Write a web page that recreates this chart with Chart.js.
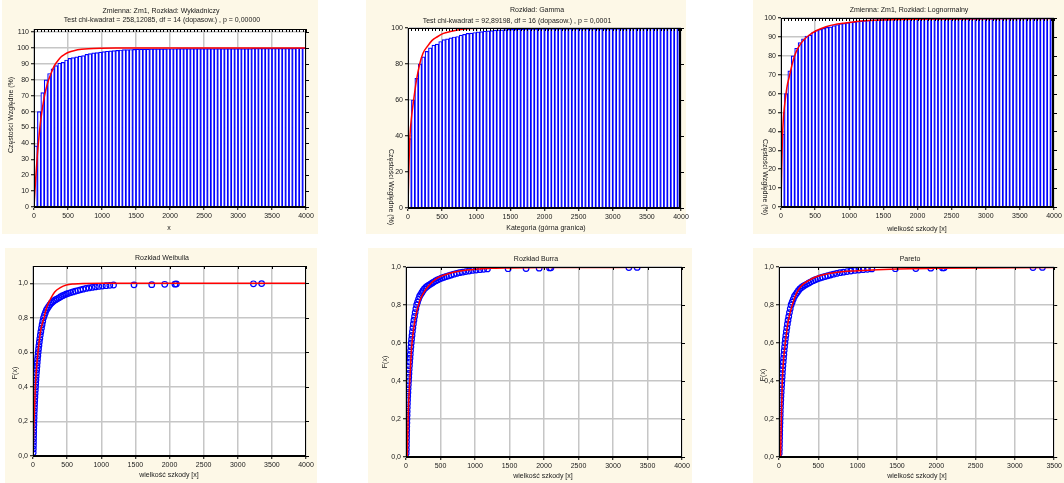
<!DOCTYPE html>
<html>
<head>
<meta charset="utf-8">
<script src="https://cdn.jsdelivr.net/npm/chart.js@4.4.1/dist/chart.umd.min.js"></script>
<style>
html, body { margin: 0; padding: 0; background: #fff; }
#page { position: relative; width: 1064px; height: 483px; overflow: hidden; }
.panel { position: absolute; background: #fdf8e7; }
canvas { position: absolute; left: 0; top: 0; }
</style>
</head>
<body>
<div id="page"></div>
<script>
// ---- data ----

// histogram classes (upper bound of each 50-wide class)
var binUpper = Array.from({ length: 80 }, function (_, i) { return (i + 1) * 50; });

// cumulative relative frequency (%) per class
var cumPct = [
  38.5, 60, 72, 80, 84, 87, 89, 90.5, 91, 92.5,
  93.5, 94, 94.5, 95, 95.3, 96, 96.5, 97, 97.2, 97.5,
  97.8, 98, 98.2, 98.4, 98.6, 98.8, 99, 99, 99.1, 99.2,
  99.3, 99.3, 99.4, 99.4, 99.5, 99.5, 99.5, 99.5, 99.5, 99.6,
  99.6, 99.6, 99.7, 99.7, 99.7, 99.7, 99.7, 99.7, 99.7, 99.7,
  99.7, 99.7, 99.7, 99.7, 99.7, 99.7, 99.7, 99.7, 99.7, 99.7,
  99.7, 99.7, 99.7, 99.7, 99.8, 99.8, 99.8, 99.8, 99.8, 99.8,
  99.8, 99.8, 99.8, 99.8, 99.8, 99.8, 99.8, 100, 100, 100
];

// fitted curves on the histograms (%)
var expX = [0, 25, 50, 75, 100, 150, 200, 250, 300, 350, 400, 450, 500, 600, 700, 800, 1000, 1200, 4000];
var expY = [0, 18, 33, 45, 55, 69, 78, 84, 89, 92, 94.5, 96, 97.2, 98.5, 99.2, 99.6, 99.9, 100, 100];

var gammaX = [0, 10, 29, 50, 83, 120, 171, 220, 288, 350, 425, 520, 620, 750, 913, 1200, 4000];
var gammaY = [0, 18, 40, 50, 60, 70, 80, 86, 90, 93, 95, 97, 98, 99, 99.7, 100, 100];

var lognX = [0, 10, 20, 35, 50, 63, 90, 122, 160, 195, 240, 293, 350, 415, 530, 659, 780, 904, 1221, 1700, 2500, 4000];
var lognY = [0, 20, 35, 47, 53, 57, 64, 69, 75, 79.5, 83.5, 86.6, 89, 91, 93.5, 95.4, 96.5, 97.2, 98.6, 99.2, 99.5, 99.8];

// empirical distribution of the claims
var ecdfX = [
  3, 5, 6, 7, 8, 9, 10, 11, 13, 14,
  16, 17, 19, 21, 23, 25, 28, 31, 34, 37,
  40, 43, 46, 50, 54, 58, 62, 66, 71, 76,
  81, 87, 93, 100, 107, 115, 124, 133, 143, 154,
  167, 181, 196, 212, 229, 247, 266, 287, 309, 332,
  356, 381, 407, 434, 462, 491, 521, 553, 586, 620,
  656, 694, 734, 776, 820, 866, 914, 964, 1016, 1070,
  1125, 1180, 1480, 1740, 1930, 2080, 2100, 3230, 3350
];
var ecdfF = [
  0.02, 0.04, 0.06, 0.08, 0.10, 0.12, 0.14, 0.16, 0.18, 0.20,
  0.22, 0.24, 0.26, 0.28, 0.30, 0.32, 0.34, 0.36, 0.38, 0.40,
  0.42, 0.44, 0.46, 0.48, 0.50, 0.52, 0.54, 0.56, 0.58, 0.60,
  0.62, 0.64, 0.66, 0.68, 0.70, 0.72, 0.74, 0.76, 0.78, 0.80,
  0.815, 0.83, 0.845, 0.855, 0.865, 0.875, 0.885, 0.892, 0.899, 0.905,
  0.91, 0.916, 0.922, 0.928, 0.933, 0.938, 0.942, 0.946, 0.95, 0.954,
  0.958, 0.962, 0.966, 0.97, 0.973, 0.976, 0.979, 0.982, 0.984, 0.986,
  0.988, 0.99, 0.991, 0.992, 0.994, 0.995, 0.996, 0.997, 0.998
];

// fitted distribution functions F(x)
var weibX = [0, 15, 34, 50, 73, 110, 161, 200, 244, 318, 400, 489, 600, 733, 1000, 4000];
var weibF = [0, 0.2, 0.4, 0.5, 0.6, 0.72, 0.8, 0.86, 0.9, 0.95, 0.975, 0.99, 0.996, 0.999, 1, 1];

var burrX = [19, 34, 58, 82, 130, 203, 300, 445, 638, 880, 1217, 1500, 2000, 3000, 4000];
var burrF = [0, 0.246, 0.42, 0.58, 0.72, 0.826, 0.888, 0.94, 0.967, 0.984, 0.993, 0.995, 0.997, 0.998, 0.999];

var paretoX = [20, 30, 42, 60, 80, 120, 169, 220, 283, 380, 482, 700, 1000, 1500, 2000, 3500];
var paretoF = [0, 0.2, 0.4, 0.52, 0.6, 0.72, 0.8, 0.86, 0.9, 0.93, 0.95, 0.97, 0.98, 0.99, 0.993, 0.998];

// tick labels
var xTicks4000 = [0, 500, 1000, 1500, 2000, 2500, 3000, 3500, 4000];
var xTicks3500 = [0, 500, 1000, 1500, 2000, 2500, 3000, 3500];
var pctTicks110 = [0, 10, 20, 30, 40, 50, 60, 70, 80, 90, 100, 110];
var pctTicks20 = [0, 20, 40, 60, 80, 100];
var pctTicks10 = [0, 10, 20, 30, 40, 50, 60, 70, 80, 90, 100];
var fTicks = [0, 0.2, 0.4, 0.6, 0.8, 1.0];

// ---- drawing ----
var W = 1064, H = 483, Y_W = 24, X_H = 14;
var FONT = '"Liberation Sans", Arial, sans-serif';
Chart.defaults.font.family = FONT;
Chart.defaults.font.size = 7;
Chart.defaults.color = '#1a1a1a';

function pts(xs, ys) {
  return xs.map(function (x, i) { return { x: x, y: ys[i] }; });
}

var panelDeco = {
  id: 'panelDeco',
  beforeDraw: function (chart) {
    var a = chart.chartArea, ctx = chart.ctx;
    ctx.save();
    ctx.fillStyle = '#fff';
    ctx.fillRect(a.left, a.top, a.width, a.height);
    ctx.restore();
  },
  afterDatasetsDraw: function (chart, args, o) {
    var a = chart.chartArea, ctx = chart.ctx, sx = chart.scales.x, sy = chart.scales.y;
    ctx.save();
    ctx.strokeStyle = '#000';
    ctx.lineWidth = 1;
    ctx.strokeRect(Math.round(a.left) + 0.5, Math.round(a.top) + 0.5, Math.round(a.width) - 1, Math.round(a.height) - 1);
    if (o.thickRight) {
      ctx.fillStyle = '#000';
      ctx.fillRect(Math.round(a.right) - 2, a.top, 2, a.height);
    }
    ctx.beginPath();
    sy.ticks.forEach(function (t) {
      var y = Math.round(sy.getPixelForValue(t.value)) + 0.5;
      ctx.moveTo(a.right, y); ctx.lineTo(a.right + 3, y);
    });
    (o.topTicks || sx.ticks.map(function (t) { return t.value; })).forEach(function (v) {
      var x = Math.round(sx.getPixelForValue(v)) + 0.5;
      ctx.moveTo(x, a.top); ctx.lineTo(x, a.top + 3);
    });
    ctx.stroke();
    ctx.restore();
  },
  afterDraw: function (chart, args, o) {
    var ctx = chart.ctx;
    ctx.save();
    ctx.fillStyle = '#1a1a1a';
    ctx.font = '7px ' + FONT;
    ctx.textAlign = 'center';
    ctx.textBaseline = 'middle';
    o.texts.forEach(function (t) {
      ctx.save();
      ctx.translate(t[1], t[2]);
      if (t[3]) ctx.rotate(t[3] * Math.PI / 2);
      ctx.fillText(t[0], 0, 0);
      ctx.restore();
    });
    ctx.restore();
  }
};

function fmtF(v) { return v.toFixed(1).replace('.', ','); }
function fmtInt(v) { return String(v); }

function axes(p) {
  var grid = { color: '#c6c6c6', lineWidth: 1.5, tickLength: 3, tickColor: '#000', tickWidth: 1 };
  return {
    x: {
      type: 'linear', min: 0, max: p.xMax, offset: false,
      grid: Object.assign({ offset: false }, grid),
      border: { color: '#000' },
      ticks: { callback: fmtInt, padding: 2, maxRotation: 0, autoSkip: false },
      afterBuildTicks: function (s) { s.ticks = p.xTicks.map(function (v) { return { value: v }; }); },
      afterFit: function (s) { s.height = X_H; }
    },
    y: {
      type: 'linear', min: 0, max: p.yMax,
      grid: grid,
      border: { color: '#000' },
      ticks: { callback: p.yFmt || fmtInt, padding: 2 },
      afterBuildTicks: function (s) { s.ticks = p.yTicks.map(function (v) { return { value: v }; }); },
      afterFit: function (s) { s.width = Y_W; }
    }
  };
}

var panels = [
  { cream: [2, 0, 316, 234], plot: [34, 29, 306, 207], kind: 'hist', fit: [expX, expY],
    xMax: 4000, xTicks: xTicks4000, yMax: 112, yTicks: pctTicks110,
    texts: [['Zmienna: Zm1, Rozkład: Wykładniczy', 161, 11],
            ['Test chi-kwadrat = 258,12085, df = 14 (dopasow.) , p = 0,00000', 162, 20],
            ['x', 169, 228],
            ['Częstości Względne (%)', 11, 115, -1]] },
  { cream: [366, 0, 320, 234], plot: [408, 28, 681, 208], kind: 'hist', fit: [gammaX, gammaY], thickRight: true,
    xMax: 4000, xTicks: xTicks4000, yMax: 100, yTicks: pctTicks20,
    texts: [['Rozkład: Gamma', 537, 10],
            ['Test chi-kwadrat = 92,89198, df = 16 (dopasow.) , p = 0,0001', 517, 21],
            ['Kategoria (górna granica)', 546, 228],
            ['Częstości Względne (%)', 391, 187, 1]] },
  { cream: [753, 0, 311, 234], plot: [781, 18, 1054, 207], kind: 'hist', fit: [lognX, lognY], thickRight: true,
    xMax: 4000, xTicks: xTicks4000, yMax: 100, yTicks: pctTicks10,
    texts: [['Zmienna: Zm1, Rozkład: Lognormalny', 909, 10],
            ['wielkość szkody [x]', 917, 229],
            ['Częstości Względne (%)', 765, 177, 1]] },
  { cream: [5, 248, 312, 235], plot: [33, 266, 306, 456], kind: 'cdf', fit: [weibX, weibF],
    xMax: 4000, xTicks: xTicks4000, yMax: 1.1, yTicks: fTicks, yFmt: fmtF,
    texts: [['Rozkład Weibulla', 162, 258],
            ['wielkość szkody [x]', 169, 475],
            ['F(x)', 15, 373, -1]] },
  { cream: [368, 248, 324, 235], plot: [406, 267, 682, 457], kind: 'cdf', fit: [burrX, burrF],
    xMax: 4000, xTicks: xTicks4000, yMax: 1, yTicks: fTicks, yFmt: fmtF,
    texts: [['Rozkład Burra', 536, 259],
            ['wielkość szkody [x]', 543, 476],
            ['F(x)', 385, 362, -1]] },
  { cream: [753, 248, 311, 235], plot: [779, 267, 1055, 457], kind: 'cdf', fit: [paretoX, paretoF],
    xMax: 3500, xTicks: xTicks3500, yMax: 1, yTicks: fTicks, yFmt: fmtF,
    texts: [['Pareto', 910, 259],
            ['wielkość szkody [x]', 917, 476],
            ['F(x)', 763, 375, -1]] }
];

var page = document.getElementById('page');

panels.forEach(function (p) {
  var bg = document.createElement('div');
  bg.className = 'panel';
  bg.style.left = p.cream[0] + 'px';
  bg.style.top = p.cream[1] + 'px';
  bg.style.width = p.cream[2] + 'px';
  bg.style.height = p.cream[3] + 'px';
  page.appendChild(bg);
});

panels.forEach(function (p) {
  var cv = document.createElement('canvas');
  cv.width = W; cv.height = H;
  cv.style.width = W + 'px'; cv.style.height = H + 'px';
  page.appendChild(cv);

  var redLine = {
    type: p.kind === 'hist' ? 'line' : 'scatter',
    showLine: true,
    data: pts(p.fit[0], p.fit[1]),
    borderColor: '#ff0000',
    borderWidth: 1.5,
    pointRadius: 0,
    cubicInterpolationMode: 'monotone',
    fill: false
  };
  var datasets;
  if (p.kind === 'hist') {
    datasets = [redLine, {
      type: 'bar',
      data: cumPct.map(function (v, i) { return { x: binUpper[i] - 25, y: v }; }),
      backgroundColor: '#ffffff',
      borderColor: '#0000ff',
      borderWidth: 1.2,
      barPercentage: 1,
      categoryPercentage: 1
    }];
  } else {
    datasets = [redLine, {
      type: 'scatter',
      data: pts(ecdfX, ecdfF),
      pointStyle: 'circle',
      pointRadius: 2.8,
      borderColor: '#0000ff',
      backgroundColor: 'rgba(0,0,0,0)',
      borderWidth: 1.2
    }];
  }

  new Chart(cv, {
    type: p.kind === 'hist' ? 'bar' : 'scatter',
    data: { datasets: datasets },
    options: {
      responsive: false,
      animation: false,
      events: [],
      layout: {
        padding: {
          left: p.plot[0] - Y_W,
          top: p.plot[1],
          right: W - p.plot[2],
          bottom: H - p.plot[3] - X_H
        }
      },
      scales: axes(p),
      plugins: {
        legend: { display: false },
        tooltip: { enabled: false },
        panelDeco: {
          texts: p.texts,
          thickRight: p.thickRight,
          topTicks: p.kind === 'hist' ? binUpper : null
        }
      }
    },
    plugins: [panelDeco]
  });
});
</script>
</body>
</html>
